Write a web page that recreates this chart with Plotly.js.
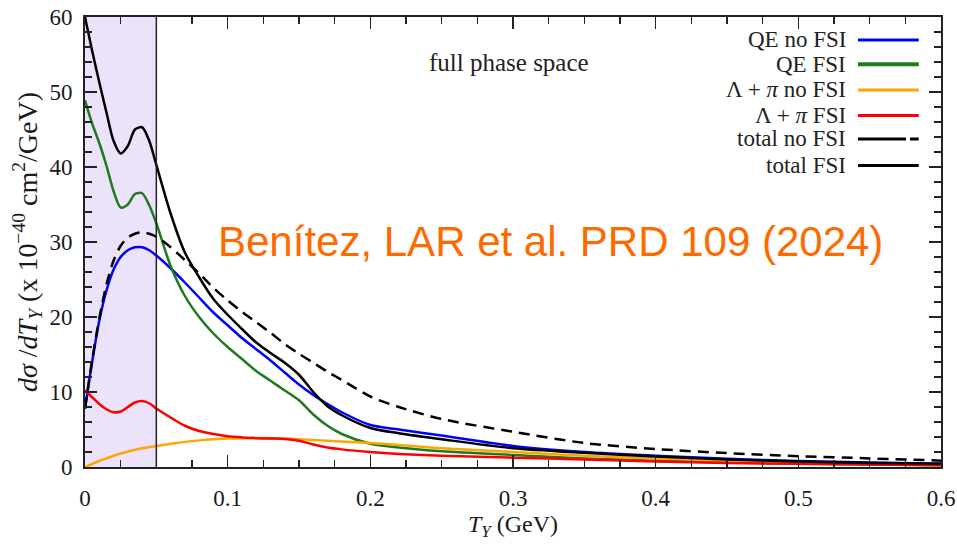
<!DOCTYPE html>
<html>
<head>
<meta charset="utf-8">
<script src="https://cdn.plot.ly/plotly-3.0.1.min.js"></script>
<style>html,body{margin:0;padding:0;background:#fff;}#chart{width:957px;height:545px;}</style>
</head>
<body>
<div id="chart"></div>
<script>
// T_Y grid (GeV)
const T = [0, 0.005, 0.01, 0.015, 0.02, 0.025, 0.03, 0.035, 0.04, 0.045, 0.05, 0.06, 0.07, 0.08, 0.09, 0.1, 0.11, 0.12, 0.13, 0.14, 0.15, 0.16, 0.17, 0.18, 0.2, 0.22, 0.25, 0.3, 0.35, 0.4, 0.45, 0.5, 0.55, 0.6];

// dσ/dT_Y (x 10^-40 cm^2/GeV)
const qeNoFSI = [7.8, 14.0, 19.5, 23.5, 26.3, 28.0, 28.9, 29.3, 29.3, 28.9, 28.2, 26.5, 24.6, 22.6, 20.6, 18.9, 17.2, 15.7, 14.2, 12.6, 11.0, 9.6, 8.4, 7.3, 5.6, 5.0, 4.2, 2.8, 2.0, 1.5, 1.1, 0.8, 0.6, 0.45];
const qeFSI = [48.9, 45.8, 43.2, 40.2, 36.8, 34.6, 35.0, 36.4, 36.5, 34.9, 32.5, 26.8, 22.8, 20.0, 17.8, 16.0, 14.4, 12.8, 11.5, 10.2, 8.9, 7.0, 5.5, 4.4, 3.1, 2.6, 2.1, 1.6, 1.15, 0.85, 0.6, 0.45, 0.35, 0.25];
const lpNoFSI = [0, 0.4, 0.8, 1.15, 1.5, 1.8, 2.05, 2.3, 2.5, 2.65, 2.8, 3.1, 3.35, 3.55, 3.7, 3.8, 3.85, 3.85, 3.85, 3.8, 3.7, 3.6, 3.5, 3.4, 3.2, 2.95, 2.5, 2.0, 1.5, 1.15, 0.85, 0.6, 0.45, 0.3];
const lpFSI = [10.2, 9.3, 8.4, 7.7, 7.3, 7.4, 8.0, 8.6, 8.8, 8.5, 7.8, 6.6, 5.5, 4.8, 4.4, 4.1, 3.95, 3.85, 3.8, 3.75, 3.5, 3.0, 2.6, 2.35, 2.0, 1.75, 1.5, 1.25, 1.0, 0.75, 0.55, 0.42, 0.32, 0.25];
const totNoFSI = [7.8, 14.2, 19.8, 24.3, 27.5, 29.5, 30.6, 31.1, 31.3, 31.1, 30.7, 29.3, 27.6, 25.8, 23.9, 22.2, 20.7, 19.3, 17.9, 16.4, 15.1, 13.9, 12.7, 11.6, 9.4, 8.0, 6.4, 4.7, 3.2, 2.4, 1.85, 1.45, 1.15, 0.85];
const totFSI = [60, 55.5, 51.3, 47.3, 43.5, 41.8, 42.8, 45.0, 45.3, 43.5, 40.3, 33.8, 28.6, 25.3, 22.4, 20.3, 18.4, 16.6, 15.2, 13.9, 12.3, 10.0, 8.1, 6.9, 5.2, 4.5, 3.7, 2.5, 1.9, 1.4, 1.0, 0.75, 0.55, 0.42];

const names = ["QE no FSI", "QE FSI", "Λ + <i>π</i> no FSI", "Λ + <i>π</i> FSI", "total no FSI", "total FSI"];
const series = [qeNoFSI, qeFSI, lpNoFSI, lpFSI, totNoFSI, totFSI];
const colors = ["#0000ff", "#1f7a1f", "#ffa500", "#ff0000", "#000000", "#000000"];
const dashes = ["solid", "solid", "solid", "solid", "11px,7px", "solid"];
const legendDash = ["solid", "solid", "solid", "solid", "48px,4px", "solid"];
const legendWidth = [3, 4, 3, 3, 3, 3];

const shadedRange = [0, 0.05];
const xTicks = [0, 0.1, 0.2, 0.3, 0.4, 0.5, 0.6];
const xTickText = ["0", "0.1", "0.2", "0.3", "0.4", "0.5", "0.6"];
const yTicks = [0, 10, 20, 30, 40, 50, 60];

const traces = series.map((y, i) => ({
  x: T, y: y, type: "scatter", mode: "lines", name: names[i],
  line: {color: colors[i], width: 2.5, dash: dashes[i], shape: "spline", smoothing: 0.8},
  showlegend: false, hoverinfo: "skip"
}));

const serif = "Liberation Serif, Times New Roman, serif";
const shapes = [
  {type: "rect", xref: "x", yref: "y", x0: shadedRange[0], x1: shadedRange[1], y0: 0, y1: 60,
   fillcolor: "#ece3fa", line: {width: 0}, layer: "below"},
  {type: "line", xref: "x", yref: "y", x0: shadedRange[1], x1: shadedRange[1], y0: 0, y1: 60,
   line: {color: "#222", width: 1.5}, layer: "above"}
];
const annotations = [
  {xref: "x", yref: "y", x: 0.297, y: 54.0, text: "full phase space", showarrow: false,
   font: {family: serif, size: 25, color: "#222"}},
  {xref: "x", yref: "y", x: 0.5606, y: 30.1, xanchor: "right", text: "Benítez, LAR et al. PRD 109 (2024)",
   showarrow: false, font: {family: "Liberation Sans, Arial, sans-serif", size: 42, color: "#ff6a00"}}
];
// custom legend (symbol to the right of the label)
const legY = [0.949, 0.895, 0.838, 0.781, 0.729, 0.670];
names.forEach((n, i) => {
  annotations.push({xref: "paper", yref: "paper", x: 0.890, y: legY[i], xanchor: "right", yanchor: "middle",
    text: n, showarrow: false, borderpad: 0, font: {family: serif, size: 23, color: "#222"}});
  shapes.push({type: "line", xref: "paper", yref: "paper", x0: 0.903, x1: 0.974, y0: legY[i], y1: legY[i],
    line: {color: colors[i], width: legendWidth[i], dash: legendDash[i]}});
});

const axisCommon = {
  showline: true, linecolor: "#222", linewidth: 2, mirror: "allticks",
  ticks: "inside", ticklen: 12, tickwidth: 1.5, tickcolor: "#222",
  showgrid: false, zeroline: false,
  tickfont: {family: serif, size: 23, color: "#1a1a1a"}
};
const layout = {
  width: 957, height: 545,
  margin: {l: 85, r: 16, t: 17, b: 78},
  paper_bgcolor: "#fff", plot_bgcolor: "#fff",
  showlegend: false,
  xaxis: Object.assign({}, axisCommon, {
    range: [0, 0.6], tickvals: xTicks, ticktext: xTickText, ticklabelstandoff: 9,
    minor: {dtick: 0.025, tick0: 0, ticks: "inside", ticklen: 7, tickwidth: 1.5, tickcolor: "#222"},
    title: {text: "<i>T<sub>Y</sub></i> (GeV)", font: {family: serif, size: 24, color: "#1a1a1a"}, standoff: 4}
  }),
  yaxis: Object.assign({}, axisCommon, {
    range: [0, 60], tickvals: yTicks, ticklabelstandoff: 6,
    minor: {dtick: 2, tick0: 0, ticks: "inside", ticklen: 7, tickwidth: 1.5, tickcolor: "#222"},
    title: {text: "<i>dσ</i> /<i>dT<sub>Y</sub></i> (x 10<sup>−40</sup> cm<sup>2</sup>/GeV)", font: {family: serif, size: 28, color: "#1a1a1a"}, standoff: 4}
  }),
  shapes: shapes,
  annotations: annotations
};
Plotly.newPlot("chart", traces, layout, {staticPlot: true, displayModeBar: false});
</script>
</body>
</html>
